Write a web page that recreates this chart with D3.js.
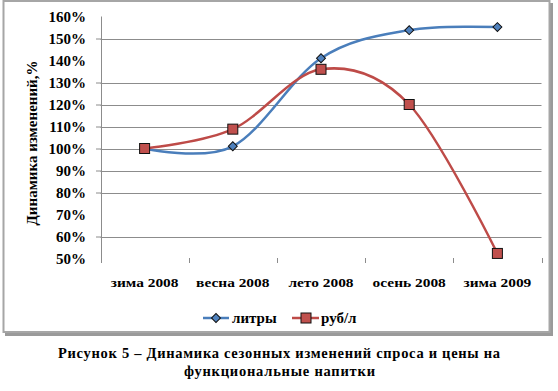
<!DOCTYPE html>
<html><head><meta charset="utf-8">
<script src="https://cdn.jsdelivr.net/npm/d3@7"></script>
<style>html,body{margin:0;padding:0;background:#fff;}svg{display:block;}</style>
</head><body>
<script>
const categories = ["зима 2008", "весна 2008", "лето 2008", "осень 2008", "зима 2009"];
const litres = [100, 101, 141, 153.8, 155.2];
const rubPerL = [100, 108.8, 136, 120, 52.3];
const yTicks = [50, 60, 70, 80, 90, 100, 110, 120, 130, 140, 150, 160];
const gridTicks = [60, 80, 90, 100, 110, 120, 130, 150];
const seriesNames = ["литры", "руб/л"];
const yTitle = "Динамика изменений,%";
const caption1 = "Рисунок 5 – Динамика сезонных изменений спроса и цены на";
const caption2 = "функциональные напитки";

const W = 558, H = 391;
const FONT = "Liberation Serif";
const svg = d3.select("body").append("svg").attr("width", W).attr("height", H);
function txt(sel) { return sel.style("font-family", FONT).style("font-weight", "bold").attr("fill", "#000"); }

// frame with shadow
svg.append("rect").attr("x", 5).attr("y", 3).attr("width", 548).attr("height", 333).attr("fill", "#9a9a9a");
svg.append("rect").attr("x", 3.5).attr("y", 1).attr("width", 546).attr("height", 331)
  .attr("fill", "#fff").attr("stroke", "#a6a6a6").attr("stroke-width", 2);

const x = d3.scaleBand().domain(categories).range([100.5, 541.5]);
const y = d3.scaleLinear().domain([50, 160]).range([258.5, 16.5]);

// gridlines
svg.append("g").selectAll("line").data(gridTicks).join("line")
  .attr("x1", 100.5).attr("x2", 541.5)
  .attr("y1", d => Math.round(y(d)) + 0.5).attr("y2", d => Math.round(y(d)) + 0.5)
  .attr("stroke", "#8c8c8c").attr("stroke-width", 1);

// y axis
const yAxis = d3.axisLeft(y).tickValues(yTicks).tickSize(5).tickPadding(10).tickFormat(d => d + "%");
const gy = svg.append("g").attr("transform", "translate(101,0)").call(yAxis);
gy.attr("font-family", null).attr("font-size", null);
gy.select(".domain").attr("stroke", "#8c8c8c").attr("d", "M0.5,16.5V263");
gy.selectAll(".tick line").attr("stroke", "#8c8c8c").attr("x2", -5)
  .attr("display", d => gridTicks.includes(d) ? null : "none");
txt(gy.selectAll(".tick text")).attr("font-size", 15).attr("x", -15);

// x axis ticks (boundaries)
const bounds = categories.map(c => x(c)).concat([x.range()[1]]);
svg.append("g").selectAll("line").data(bounds.slice(1)).join("line")
  .attr("x1", d => Math.round(d) + 0.5).attr("x2", d => Math.round(d) + 0.5)
  .attr("y1", 258).attr("y2", 263).attr("stroke", "#8c8c8c");
const xl = txt(svg.append("g").selectAll("text").data(categories).join("text")
  .attr("x", d => x(d) + x.bandwidth() / 2).attr("y", 286.5)
  .attr("text-anchor", "middle").attr("font-size", 13.5).text(d => d));
xl.each(function() { const w = this.getComputedTextLength(); d3.select(this).attr("textLength", w * 1.14).attr("lengthAdjust", "spacingAndGlyphs"); });

// y title
txt(svg.append("text").attr("transform", "translate(37,143) rotate(-90)")
  .attr("text-anchor", "middle").attr("font-size", 15).text(yTitle));

const line = d3.line().x((d, i) => x(categories[i]) + x.bandwidth() / 2).y(d => y(d))
  .curve(d3.curveCardinal.tension(0));
const blue = "#4a7ebb", red = "#be4b48";
const blueFill = "#4f81bd", redFill = "#c0504d";

svg.append("path").datum(litres).attr("d", line).attr("fill", "none")
  .attr("stroke", blue).attr("stroke-width", 2.5);
svg.append("path").datum(rubPerL).attr("d", line).attr("fill", "none")
  .attr("stroke", red).attr("stroke-width", 2.5);

const diamond = d3.symbol().type(d3.symbolSquare).size(40);
svg.append("g").selectAll("path").data(litres).join("path")
  .attr("d", diamond())
  .attr("transform", (d, i) => `translate(${x(categories[i]) + x.bandwidth() / 2},${y(d)}) rotate(45)`)
  .attr("fill", blueFill).attr("stroke", "#111").attr("stroke-width", 1);
svg.append("g").selectAll("rect").data(rubPerL).join("rect")
  .attr("x", (d, i) => x(categories[i]) + x.bandwidth() / 2 - 5)
  .attr("y", d => y(d) - 5).attr("width", 10).attr("height", 10)
  .attr("fill", redFill).attr("stroke", "#111").attr("stroke-width", 1);

// legend
const leg = svg.append("g");
const ly = 318;
leg.append("line").attr("x1", 203).attr("x2", 229).attr("y1", ly).attr("y2", ly).attr("stroke", blue).attr("stroke-width", 2.5);
leg.append("path").attr("d", diamond()).attr("transform", `translate(216,${ly}) rotate(45)`)
  .attr("fill", blueFill).attr("stroke", "#111");
txt(leg.append("text").attr("x", 232).attr("y", ly + 5).attr("font-size", 15).text(seriesNames[0]));
leg.append("line").attr("x1", 292).attr("x2", 319).attr("y1", ly).attr("y2", ly).attr("stroke", red).attr("stroke-width", 2.5);
leg.append("rect").attr("x", 301).attr("y", ly - 5).attr("width", 10).attr("height", 10)
  .attr("fill", redFill).attr("stroke", "#111");
txt(leg.append("text").attr("x", 321).attr("y", ly + 5).attr("font-size", 15).text(seriesNames[1]));

// caption
txt(svg.append("text").attr("x", 279).attr("y", 358).attr("text-anchor", "middle")
  .attr("font-size", 14.5).attr("textLength", 442).attr("lengthAdjust", "spacing").text(caption1));
txt(svg.append("text").attr("x", 279.5).attr("y", 376).attr("text-anchor", "middle")
  .attr("font-size", 14.5).attr("textLength", 191).attr("lengthAdjust", "spacing").text(caption2));
</script>
</body></html>
